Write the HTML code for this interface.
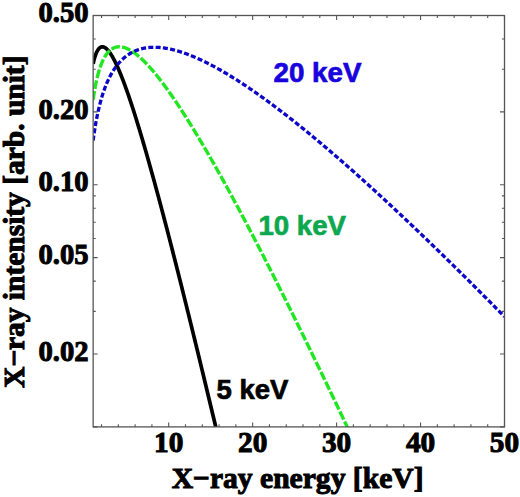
<!DOCTYPE html>
<html><head><meta charset="utf-8"><style>
html,body{margin:0;padding:0;background:#fff;}
svg{display:block;}
.ax{font-family:"Liberation Serif",serif;font-weight:bold;fill:#000;}
.lg{font-family:"Liberation Sans",sans-serif;font-weight:bold;}
</style></head><body>
<svg width="520" height="497" viewBox="0 0 520 497">
<defs><clipPath id="cp"><rect x="93.15" y="15.5" width="411.35" height="411.4"/></clipPath></defs>
<rect width="520" height="497" fill="#fff"/>
<g clip-path="url(#cp)" fill="none" stroke-linejoin="round">
<path d="M93.15,63.73 L93.57,61.85 L93.99,60.14 L94.41,58.56 L94.83,57.13 L95.25,55.82 L95.67,54.63 L96.09,53.54 L96.51,52.56 L96.93,51.68 L97.35,50.88 L97.77,50.17 L98.19,49.54 L98.61,48.99 L99.03,48.51 L99.45,48.09 L99.87,47.74 L100.29,47.45 L100.71,47.22 L101.13,47.05 L101.54,46.92 L101.96,46.85 L102.38,46.83 L102.80,46.85 L103.22,46.92 L103.64,47.03 L104.06,47.18 L104.48,47.37 L104.90,47.59 L105.32,47.86 L105.74,48.16 L106.16,48.49 L106.58,48.85 L107.00,49.25 L107.42,49.67 L107.84,50.13 L108.26,50.61 L108.68,51.12 L109.10,51.66 L109.52,52.22 L109.94,52.81 L110.36,53.42 L110.78,54.05 L111.20,54.71 L111.62,55.39 L112.04,56.08 L112.46,56.80 L112.88,57.54 L113.30,58.30 L113.72,59.08 L114.14,59.88 L114.56,60.69 L114.98,61.52 L115.40,62.37 L115.82,63.23 L116.24,64.11 L116.66,65.01 L117.08,65.92 L117.50,66.85 L117.91,67.79 L118.33,68.75 L118.75,69.71 L119.17,70.70 L119.59,71.69 L120.01,72.70 L120.43,73.72 L120.85,74.75 L121.27,75.80 L121.69,76.86 L122.11,77.92 L122.53,79.00 L122.95,80.09 L123.37,81.20 L123.79,82.31 L124.21,83.43 L124.63,84.56 L125.05,85.70 L125.47,86.85 L125.89,88.02 L126.31,89.19 L126.73,90.36 L127.15,91.55 L127.57,92.75 L127.99,93.96 L128.41,95.17 L128.83,96.39 L129.25,97.62 L129.67,98.86 L130.09,100.11 L130.51,101.36 L130.93,102.62 L131.35,103.89 L131.77,105.16 L132.19,106.45 L132.61,107.74 L133.03,109.03 L133.45,110.34 L133.87,111.65 L134.28,112.96 L134.70,114.29 L135.12,115.62 L135.54,116.95 L135.96,118.29 L136.38,119.64 L136.80,120.99 L137.22,122.35 L137.64,123.72 L138.06,125.09 L138.48,126.46 L138.90,127.84 L139.32,129.23 L139.74,130.62 L140.16,132.02 L140.58,133.42 L141.00,134.83 L141.42,136.24 L141.84,137.66 L142.26,139.08 L142.68,140.50 L143.10,141.93 L143.52,143.37 L143.94,144.81 L144.36,146.25 L144.78,147.70 L145.20,149.16 L145.62,150.61 L146.04,152.07 L146.46,153.54 L146.88,155.01 L147.30,156.48 L147.72,157.96 L148.14,159.44 L148.56,160.93 L148.98,162.42 L149.40,163.91 L149.82,165.41 L150.24,166.91 L150.66,168.41 L151.07,169.92 L151.49,171.43 L151.91,172.94 L152.33,174.46 L152.75,175.98 L153.17,177.50 L153.59,179.03 L154.01,180.56 L154.43,182.10 L154.85,183.63 L155.27,185.17 L155.69,186.72 L156.11,188.26 L156.53,189.81 L156.95,191.36 L157.37,192.92 L157.79,194.47 L158.21,196.04 L158.63,197.60 L159.05,199.17 L159.47,200.73 L159.89,202.31 L160.31,203.88 L160.73,205.46 L161.15,207.04 L161.57,208.62 L161.99,210.20 L162.41,211.79 L162.83,213.38 L163.25,214.97 L163.67,216.57 L164.09,218.16 L164.51,219.76 L164.93,221.36 L165.35,222.97 L165.77,224.57 L166.19,226.18 L166.61,227.79 L167.03,229.41 L167.44,231.02 L167.86,232.64 L168.28,234.26 L168.70,235.88 L169.12,237.50 L169.54,239.13 L169.96,240.76 L170.38,242.38 L170.80,244.02 L171.22,245.65 L171.64,247.29 L172.06,248.92 L172.48,250.56 L172.90,252.20 L173.32,253.85 L173.74,255.49 L174.16,257.14 L174.58,258.79 L175.00,260.44 L175.42,262.09 L175.84,263.74 L176.26,265.40 L176.68,267.06 L177.10,268.72 L177.52,270.38 L177.94,272.04 L178.36,273.70 L178.78,275.37 L179.20,277.04 L179.62,278.70 L180.04,280.38 L180.46,282.05 L180.88,283.72 L181.30,285.40 L181.72,287.07 L182.14,288.75 L182.56,290.43 L182.98,292.11 L183.40,293.79 L183.81,295.48 L184.23,297.16 L184.65,298.85 L185.07,300.54 L185.49,302.23 L185.91,303.92 L186.33,305.61 L186.75,307.31 L187.17,309.00 L187.59,310.70 L188.01,312.39 L188.43,314.09 L188.85,315.79 L189.27,317.50 L189.69,319.20 L190.11,320.90 L190.53,322.61 L190.95,324.31 L191.37,326.02 L191.79,327.73 L192.21,329.44 L192.63,331.15 L193.05,332.86 L193.47,334.58 L193.89,336.29 L194.31,338.01 L194.73,339.73 L195.15,341.44 L195.57,343.16 L195.99,344.88 L196.41,346.61 L196.83,348.33 L197.25,350.05 L197.67,351.78 L198.09,353.50 L198.51,355.23 L198.93,356.96 L199.35,358.68 L199.77,360.41 L200.18,362.14 L200.60,363.88 L201.02,365.61 L201.44,367.34 L201.86,369.08 L202.28,370.81 L202.70,372.55 L203.12,374.29 L203.54,376.03 L203.96,377.77 L204.38,379.51 L204.80,381.25 L205.22,382.99 L205.64,384.73 L206.06,386.48 L206.48,388.22 L206.90,389.97 L207.32,391.71 L207.74,393.46 L208.16,395.21 L208.58,396.96 L209.00,398.71 L209.42,400.46 L209.84,402.21 L210.26,403.96 L210.68,405.71 L211.10,407.47 L211.52,409.22 L211.94,410.98 L212.36,412.73 L212.78,414.49 L213.20,416.25 L213.62,418.01 L214.04,419.77 L214.46,421.53 L214.88,423.29 L215.30,425.05 L215.72,426.81 L216.14,428.57 L216.56,430.34 L216.97,432.10" stroke="#000" stroke-width="3.7"/>
<path d="M93.15,99.75 L93.57,96.81 L93.99,94.04 L94.41,91.45 L94.83,89.00 L95.25,86.69 L95.67,84.51 L96.09,82.45 L96.51,80.51 L96.93,78.66 L97.35,76.91 L97.77,75.24 L98.19,73.67 L98.61,72.17 L99.03,70.74 L99.45,69.38 L99.87,68.09 L100.29,66.86 L100.71,65.69 L101.13,64.58 L101.54,63.51 L101.96,62.50 L102.38,61.54 L102.80,60.62 L103.22,59.75 L103.64,58.91 L104.06,58.12 L104.48,57.37 L104.90,56.65 L105.32,55.96 L105.74,55.31 L106.16,54.70 L106.58,54.11 L107.00,53.55 L107.42,53.02 L107.84,52.52 L108.26,52.05 L108.68,51.60 L109.10,51.18 L109.52,50.78 L109.94,50.40 L110.36,50.05 L110.78,49.72 L111.20,49.41 L111.62,49.12 L112.04,48.85 L112.46,48.60 L112.88,48.36 L113.30,48.15 L113.72,47.95 L114.14,47.77 L114.56,47.61 L114.98,47.46 L115.40,47.33 L115.82,47.21 L116.24,47.11 L116.66,47.02 L117.08,46.95 L117.50,46.89 L117.91,46.84 L118.33,46.81 L118.75,46.79 L119.17,46.78 L119.59,46.78 L120.01,46.80 L120.43,46.83 L120.85,46.87 L121.27,46.91 L121.69,46.97 L122.11,47.05 L122.53,47.13 L122.95,47.22 L123.37,47.32 L123.79,47.43 L124.21,47.55 L124.63,47.68 L125.05,47.82 L125.47,47.96 L125.89,48.12 L126.31,48.28 L126.73,48.45 L127.15,48.64 L127.57,48.82 L127.99,49.02 L128.41,49.22 L128.83,49.44 L129.25,49.66 L129.67,49.88 L130.09,50.12 L130.51,50.36 L130.93,50.60 L131.35,50.86 L131.77,51.12 L132.19,51.39 L132.61,51.66 L133.03,51.94 L133.45,52.23 L133.87,52.52 L134.28,52.82 L134.70,53.12 L135.12,53.43 L135.54,53.75 L135.96,54.07 L136.38,54.40 L136.80,54.73 L137.22,55.07 L137.64,55.41 L138.06,55.76 L138.48,56.11 L138.90,56.47 L139.32,56.83 L139.74,57.20 L140.16,57.57 L140.58,57.95 L141.00,58.33 L141.42,58.72 L141.84,59.11 L142.26,59.51 L142.68,59.91 L143.10,60.31 L143.52,60.72 L143.94,61.14 L144.36,61.55 L144.78,61.97 L145.20,62.40 L145.62,62.83 L146.04,63.26 L146.46,63.70 L146.88,64.14 L147.30,64.59 L147.72,65.03 L148.14,65.49 L148.56,65.94 L148.98,66.40 L149.40,66.86 L149.82,67.33 L150.24,67.80 L150.66,68.27 L151.07,68.75 L151.49,69.23 L151.91,69.71 L152.33,70.20 L152.75,70.69 L153.17,71.18 L153.59,71.68 L154.01,72.18 L154.43,72.68 L154.85,73.19 L155.27,73.69 L155.69,74.20 L156.11,74.72 L156.53,75.24 L156.95,75.76 L157.37,76.28 L157.79,76.80 L158.21,77.33 L158.63,77.86 L159.05,78.40 L159.47,78.93 L159.89,79.47 L160.31,80.01 L160.73,80.56 L161.15,81.10 L161.57,81.65 L161.99,82.20 L162.41,82.76 L162.83,83.31 L163.25,83.87 L163.67,84.43 L164.09,85.00 L164.51,85.56 L164.93,86.13 L165.35,86.70 L165.77,87.28 L166.19,87.85 L166.61,88.43 L167.03,89.01 L167.44,89.59 L167.86,90.17 L168.28,90.76 L168.70,91.35 L169.12,91.94 L169.54,92.53 L169.96,93.12 L170.38,93.72 L170.80,94.32 L171.22,94.92 L171.64,95.52 L172.06,96.13 L172.48,96.73 L172.90,97.34 L173.32,97.95 L173.74,98.56 L174.16,99.18 L174.58,99.79 L175.00,100.41 L175.42,101.03 L175.84,101.65 L176.26,102.28 L176.68,102.90 L177.10,103.53 L177.52,104.15 L177.94,104.78 L178.36,105.42 L178.78,106.05 L179.20,106.69 L179.62,107.32 L180.04,107.96 L180.46,108.60 L180.88,109.24 L181.30,109.89 L181.72,110.53 L182.14,111.18 L182.56,111.83 L182.98,112.48 L183.40,113.13 L183.81,113.78 L184.23,114.43 L184.65,115.09 L185.07,115.75 L185.49,116.41 L185.91,117.07 L186.33,117.73 L186.75,118.39 L187.17,119.06 L187.59,119.72 L188.01,120.39 L188.43,121.06 L188.85,121.73 L189.27,122.40 L189.69,123.07 L190.11,123.75 L190.53,124.42 L190.95,125.10 L191.37,125.78 L191.79,126.46 L192.21,127.14 L192.63,127.82 L193.05,128.51 L193.47,129.19 L193.89,129.88 L194.31,130.56 L194.73,131.25 L195.15,131.94 L195.57,132.63 L195.99,133.33 L196.41,134.02 L196.83,134.71 L197.25,135.41 L197.67,136.11 L198.09,136.81 L198.51,137.51 L198.93,138.21 L199.35,138.91 L199.77,139.61 L200.18,140.32 L200.60,141.02 L201.02,141.73 L201.44,142.43 L201.86,143.14 L202.28,143.85 L202.70,144.56 L203.12,145.28 L203.54,145.99 L203.96,146.70 L204.38,147.42 L204.80,148.13 L205.22,148.85 L205.64,149.57 L206.06,150.29 L206.48,151.01 L206.90,151.73 L207.32,152.45 L207.74,153.18 L208.16,153.90 L208.58,154.63 L209.00,155.35 L209.42,156.08 L209.84,156.81 L210.26,157.54 L210.68,158.27 L211.10,159.00 L211.52,159.73 L211.94,160.47 L212.36,161.20 L212.78,161.94 L213.20,162.67 L213.62,163.41 L214.04,164.15 L214.46,164.88 L214.88,165.62 L215.30,166.37 L215.72,167.11 L216.14,167.85 L216.56,168.59 L216.97,169.34 L217.39,170.08 L217.81,170.83 L218.23,171.57 L218.65,172.32 L219.07,173.07 L219.49,173.82 L219.91,174.57 L220.33,175.32 L220.75,176.07 L221.17,176.82 L221.59,177.58 L222.01,178.33 L222.43,179.09 L222.85,179.84 L223.27,180.60 L223.69,181.36 L224.11,182.12 L224.53,182.87 L224.95,183.63 L225.37,184.40 L225.79,185.16 L226.21,185.92 L226.63,186.68 L227.05,187.45 L227.47,188.21 L227.89,188.98 L228.31,189.74 L228.73,190.51 L229.15,191.28 L229.57,192.04 L229.99,192.81 L230.41,193.58 L230.83,194.35 L231.25,195.12 L231.67,195.90 L232.09,196.67 L232.51,197.44 L232.93,198.22 L233.34,198.99 L233.76,199.77 L234.18,200.54 L234.60,201.32 L235.02,202.10 L235.44,202.87 L235.86,203.65 L236.28,204.43 L236.70,205.21 L237.12,205.99 L237.54,206.78 L237.96,207.56 L238.38,208.34 L238.80,209.12 L239.22,209.91 L239.64,210.69 L240.06,211.48 L240.48,212.26 L240.90,213.05 L241.32,213.84 L241.74,214.63 L242.16,215.41 L242.58,216.20 L243.00,216.99 L243.42,217.78 L243.84,218.58 L244.26,219.37 L244.68,220.16 L245.10,220.95 L245.52,221.75 L245.94,222.54 L246.36,223.34 L246.78,224.13 L247.20,224.93 L247.62,225.72 L248.04,226.52 L248.46,227.32 L248.88,228.12 L249.30,228.91 L249.71,229.71 L250.13,230.51 L250.55,231.31 L250.97,232.12 L251.39,232.92 L251.81,233.72 L252.23,234.52 L252.65,235.33 L253.07,236.13 L253.49,236.93 L253.91,237.74 L254.33,238.55 L254.75,239.35 L255.17,240.16 L255.59,240.97 L256.01,241.77 L256.43,242.58 L256.85,243.39 L257.27,244.20 L257.69,245.01 L258.11,245.82 L258.53,246.63 L258.95,247.44 L259.37,248.25 L259.79,249.07 L260.21,249.88 L260.63,250.69 L261.05,251.51 L261.47,252.32 L261.89,253.14 L262.31,253.95 L262.73,254.77 L263.15,255.59 L263.57,256.40 L263.99,257.22 L264.41,258.04 L264.83,258.86 L265.25,259.68 L265.67,260.49 L266.08,261.31 L266.50,262.14 L266.92,262.96 L267.34,263.78 L267.76,264.60 L268.18,265.42 L268.60,266.24 L269.02,267.07 L269.44,267.89 L269.86,268.72 L270.28,269.54 L270.70,270.37 L271.12,271.19 L271.54,272.02 L271.96,272.84 L272.38,273.67 L272.80,274.50 L273.22,275.33 L273.64,276.15 L274.06,276.98 L274.48,277.81 L274.90,278.64 L275.32,279.47 L275.74,280.30 L276.16,281.13 L276.58,281.96 L277.00,282.80 L277.42,283.63 L277.84,284.46 L278.26,285.29 L278.68,286.13 L279.10,286.96 L279.52,287.80 L279.94,288.63 L280.36,289.47 L280.78,290.30 L281.20,291.14 L281.62,291.97 L282.04,292.81 L282.45,293.65 L282.87,294.49 L283.29,295.32 L283.71,296.16 L284.13,297.00 L284.55,297.84 L284.97,298.68 L285.39,299.52 L285.81,300.36 L286.23,301.20 L286.65,302.04 L287.07,302.88 L287.49,303.73 L287.91,304.57 L288.33,305.41 L288.75,306.25 L289.17,307.10 L289.59,307.94 L290.01,308.79 L290.43,309.63 L290.85,310.48 L291.27,311.32 L291.69,312.17 L292.11,313.01 L292.53,313.86 L292.95,314.71 L293.37,315.55 L293.79,316.40 L294.21,317.25 L294.63,318.10 L295.05,318.95 L295.47,319.80 L295.89,320.65 L296.31,321.50 L296.73,322.35 L297.15,323.20 L297.57,324.05 L297.99,324.90 L298.41,325.75 L298.83,326.60 L299.24,327.46 L299.66,328.31 L300.08,329.16 L300.50,330.01 L300.92,330.87 L301.34,331.72 L301.76,332.58 L302.18,333.43 L302.60,334.29 L303.02,335.14 L303.44,336.00 L303.86,336.85 L304.28,337.71 L304.70,338.57 L305.12,339.43 L305.54,340.28 L305.96,341.14 L306.38,342.00 L306.80,342.86 L307.22,343.72 L307.64,344.58 L308.06,345.43 L308.48,346.29 L308.90,347.15 L309.32,348.02 L309.74,348.88 L310.16,349.74 L310.58,350.60 L311.00,351.46 L311.42,352.32 L311.84,353.18 L312.26,354.05 L312.68,354.91 L313.10,355.77 L313.52,356.64 L313.94,357.50 L314.36,358.37 L314.78,359.23 L315.20,360.10 L315.61,360.96 L316.03,361.83 L316.45,362.69 L316.87,363.56 L317.29,364.42 L317.71,365.29 L318.13,366.16 L318.55,367.03 L318.97,367.89 L319.39,368.76 L319.81,369.63 L320.23,370.50 L320.65,371.37 L321.07,372.24 L321.49,373.10 L321.91,373.97 L322.33,374.84 L322.75,375.71 L323.17,376.58 L323.59,377.46 L324.01,378.33 L324.43,379.20 L324.85,380.07 L325.27,380.94 L325.69,381.81 L326.11,382.69 L326.53,383.56 L326.95,384.43 L327.37,385.31 L327.79,386.18 L328.21,387.05 L328.63,387.93 L329.05,388.80 L329.47,389.68 L329.89,390.55 L330.31,391.43 L330.73,392.30 L331.15,393.18 L331.57,394.05 L331.98,394.93 L332.40,395.81 L332.82,396.68 L333.24,397.56 L333.66,398.44 L334.08,399.32 L334.50,400.20 L334.92,401.07 L335.34,401.95 L335.76,402.83 L336.18,403.71 L336.60,404.59 L337.02,405.47 L337.44,406.35 L337.86,407.23 L338.28,408.11 L338.70,408.99 L339.12,409.87 L339.54,410.75 L339.96,411.63 L340.38,412.51 L340.80,413.40 L341.22,414.28 L341.64,415.16 L342.06,416.04 L342.48,416.93 L342.90,417.81 L343.32,418.69 L343.74,419.58 L344.16,420.46 L344.58,421.34 L345.00,422.23 L345.42,423.11 L345.84,424.00 L346.26,424.88 L346.68,425.77 L347.10,426.65 L347.52,427.54 L347.94,428.43 L348.35,429.31 L348.77,430.20 L349.19,431.09 L349.61,431.97" stroke="#22e622" stroke-width="3.4" stroke-dasharray="8.8 2.2"/>
<path d="M93.15,140.51 L93.57,137.37 L93.99,134.40 L94.41,131.58 L94.83,128.88 L95.25,126.32 L95.67,123.86 L96.09,121.52 L96.51,119.27 L96.93,117.11 L97.35,115.04 L97.77,113.05 L98.19,111.14 L98.61,109.29 L99.03,107.51 L99.45,105.80 L99.87,104.14 L100.29,102.54 L100.71,100.99 L101.13,99.49 L101.54,98.05 L101.96,96.64 L102.38,95.28 L102.80,93.96 L103.22,92.69 L103.64,91.45 L104.06,90.24 L104.48,89.07 L104.90,87.94 L105.32,86.83 L105.74,85.76 L106.16,84.71 L106.58,83.70 L107.00,82.71 L107.42,81.75 L107.84,80.81 L108.26,79.90 L108.68,79.01 L109.10,78.15 L109.52,77.30 L109.94,76.48 L110.36,75.68 L110.78,74.90 L111.20,74.14 L111.62,73.39 L112.04,72.67 L112.46,71.96 L112.88,71.27 L113.30,70.60 L113.72,69.94 L114.14,69.30 L114.56,68.68 L114.98,68.07 L115.40,67.47 L115.82,66.89 L116.24,66.32 L116.66,65.76 L117.08,65.22 L117.50,64.69 L117.91,64.18 L118.33,63.67 L118.75,63.18 L119.17,62.70 L119.59,62.23 L120.01,61.77 L120.43,61.32 L120.85,60.88 L121.27,60.46 L121.69,60.04 L122.11,59.63 L122.53,59.23 L122.95,58.85 L123.37,58.47 L123.79,58.10 L124.21,57.73 L124.63,57.38 L125.05,57.04 L125.47,56.70 L125.89,56.37 L126.31,56.05 L126.73,55.74 L127.15,55.44 L127.57,55.14 L127.99,54.85 L128.41,54.57 L128.83,54.29 L129.25,54.03 L129.67,53.76 L130.09,53.51 L130.51,53.26 L130.93,53.02 L131.35,52.78 L131.77,52.56 L132.19,52.33 L132.61,52.12 L133.03,51.91 L133.45,51.70 L133.87,51.50 L134.28,51.31 L134.70,51.12 L135.12,50.94 L135.54,50.76 L135.96,50.59 L136.38,50.42 L136.80,50.26 L137.22,50.10 L137.64,49.95 L138.06,49.81 L138.48,49.66 L138.90,49.53 L139.32,49.40 L139.74,49.27 L140.16,49.14 L140.58,49.03 L141.00,48.91 L141.42,48.80 L141.84,48.70 L142.26,48.60 L142.68,48.50 L143.10,48.41 L143.52,48.32 L143.94,48.23 L144.36,48.15 L144.78,48.07 L145.20,48.00 L145.62,47.93 L146.04,47.86 L146.46,47.80 L146.88,47.74 L147.30,47.69 L147.72,47.64 L148.14,47.59 L148.56,47.55 L148.98,47.50 L149.40,47.47 L149.82,47.43 L150.24,47.40 L150.66,47.37 L151.07,47.35 L151.49,47.33 L151.91,47.31 L152.33,47.29 L152.75,47.28 L153.17,47.27 L153.59,47.27 L154.01,47.26 L154.43,47.26 L154.85,47.27 L155.27,47.27 L155.69,47.28 L156.11,47.29 L156.53,47.30 L156.95,47.32 L157.37,47.34 L157.79,47.36 L158.21,47.39 L158.63,47.41 L159.05,47.44 L159.47,47.48 L159.89,47.51 L160.31,47.55 L160.73,47.59 L161.15,47.63 L161.57,47.67 L161.99,47.72 L162.41,47.77 L162.83,47.82 L163.25,47.88 L163.67,47.93 L164.09,47.99 L164.51,48.05 L164.93,48.11 L165.35,48.18 L165.77,48.25 L166.19,48.32 L166.61,48.39 L167.03,48.46 L167.44,48.54 L167.86,48.61 L168.28,48.69 L168.70,48.78 L169.12,48.86 L169.54,48.95 L169.96,49.03 L170.38,49.12 L170.80,49.21 L171.22,49.31 L171.64,49.40 L172.06,49.50 L172.48,49.60 L172.90,49.70 L173.32,49.81 L173.74,49.91 L174.16,50.02 L174.58,50.13 L175.00,50.24 L175.42,50.35 L175.84,50.46 L176.26,50.58 L176.68,50.69 L177.10,50.81 L177.52,50.93 L177.94,51.05 L178.36,51.18 L178.78,51.30 L179.20,51.43 L179.62,51.56 L180.04,51.69 L180.46,51.82 L180.88,51.95 L181.30,52.09 L181.72,52.23 L182.14,52.36 L182.56,52.50 L182.98,52.64 L183.40,52.79 L183.81,52.93 L184.23,53.08 L184.65,53.22 L185.07,53.37 L185.49,53.52 L185.91,53.67 L186.33,53.82 L186.75,53.98 L187.17,54.13 L187.59,54.29 L188.01,54.45 L188.43,54.61 L188.85,54.77 L189.27,54.93 L189.69,55.09 L190.11,55.26 L190.53,55.43 L190.95,55.59 L191.37,55.76 L191.79,55.93 L192.21,56.10 L192.63,56.27 L193.05,56.45 L193.47,56.62 L193.89,56.80 L194.31,56.98 L194.73,57.16 L195.15,57.33 L195.57,57.52 L195.99,57.70 L196.41,57.88 L196.83,58.07 L197.25,58.25 L197.67,58.44 L198.09,58.63 L198.51,58.81 L198.93,59.00 L199.35,59.20 L199.77,59.39 L200.18,59.58 L200.60,59.78 L201.02,59.97 L201.44,60.17 L201.86,60.37 L202.28,60.57 L202.70,60.77 L203.12,60.97 L203.54,61.17 L203.96,61.37 L204.38,61.58 L204.80,61.78 L205.22,61.99 L205.64,62.19 L206.06,62.40 L206.48,62.61 L206.90,62.82 L207.32,63.03 L207.74,63.24 L208.16,63.46 L208.58,63.67 L209.00,63.89 L209.42,64.10 L209.84,64.32 L210.26,64.54 L210.68,64.76 L211.10,64.98 L211.52,65.20 L211.94,65.42 L212.36,65.64 L212.78,65.86 L213.20,66.09 L213.62,66.31 L214.04,66.54 L214.46,66.77 L214.88,66.99 L215.30,67.22 L215.72,67.45 L216.14,67.68 L216.56,67.91 L216.97,68.14 L217.39,68.38 L217.81,68.61 L218.23,68.85 L218.65,69.08 L219.07,69.32 L219.49,69.55 L219.91,69.79 L220.33,70.03 L220.75,70.27 L221.17,70.51 L221.59,70.75 L222.01,70.99 L222.43,71.24 L222.85,71.48 L223.27,71.72 L223.69,71.97 L224.11,72.21 L224.53,72.46 L224.95,72.71 L225.37,72.96 L225.79,73.20 L226.21,73.45 L226.63,73.70 L227.05,73.96 L227.47,74.21 L227.89,74.46 L228.31,74.71 L228.73,74.97 L229.15,75.22 L229.57,75.48 L229.99,75.73 L230.41,75.99 L230.83,76.25 L231.25,76.51 L231.67,76.76 L232.09,77.02 L232.51,77.28 L232.93,77.55 L233.34,77.81 L233.76,78.07 L234.18,78.33 L234.60,78.60 L235.02,78.86 L235.44,79.12 L235.86,79.39 L236.28,79.66 L236.70,79.92 L237.12,80.19 L237.54,80.46 L237.96,80.73 L238.38,81.00 L238.80,81.27 L239.22,81.54 L239.64,81.81 L240.06,82.08 L240.48,82.36 L240.90,82.63 L241.32,82.90 L241.74,83.18 L242.16,83.45 L242.58,83.73 L243.00,84.00 L243.42,84.28 L243.84,84.56 L244.26,84.84 L244.68,85.12 L245.10,85.39 L245.52,85.67 L245.94,85.96 L246.36,86.24 L246.78,86.52 L247.20,86.80 L247.62,87.08 L248.04,87.37 L248.46,87.65 L248.88,87.93 L249.30,88.22 L249.71,88.51 L250.13,88.79 L250.55,89.08 L250.97,89.37 L251.39,89.65 L251.81,89.94 L252.23,90.23 L252.65,90.52 L253.07,90.81 L253.49,91.10 L253.91,91.39 L254.33,91.68 L254.75,91.98 L255.17,92.27 L255.59,92.56 L256.01,92.86 L256.43,93.15 L256.85,93.44 L257.27,93.74 L257.69,94.03 L258.11,94.33 L258.53,94.63 L258.95,94.93 L259.37,95.22 L259.79,95.52 L260.21,95.82 L260.63,96.12 L261.05,96.42 L261.47,96.72 L261.89,97.02 L262.31,97.32 L262.73,97.62 L263.15,97.93 L263.57,98.23 L263.99,98.53 L264.41,98.83 L264.83,99.14 L265.25,99.44 L265.67,99.75 L266.08,100.05 L266.50,100.36 L266.92,100.67 L267.34,100.97 L267.76,101.28 L268.18,101.59 L268.60,101.90 L269.02,102.21 L269.44,102.51 L269.86,102.82 L270.28,103.13 L270.70,103.45 L271.12,103.76 L271.54,104.07 L271.96,104.38 L272.38,104.69 L272.80,105.00 L273.22,105.32 L273.64,105.63 L274.06,105.95 L274.48,106.26 L274.90,106.57 L275.32,106.89 L275.74,107.21 L276.16,107.52 L276.58,107.84 L277.00,108.16 L277.42,108.47 L277.84,108.79 L278.26,109.11 L278.68,109.43 L279.10,109.75 L279.52,110.07 L279.94,110.39 L280.36,110.71 L280.78,111.03 L281.20,111.35 L281.62,111.67 L282.04,111.99 L282.45,112.31 L282.87,112.64 L283.29,112.96 L283.71,113.28 L284.13,113.61 L284.55,113.93 L284.97,114.26 L285.39,114.58 L285.81,114.91 L286.23,115.23 L286.65,115.56 L287.07,115.89 L287.49,116.21 L287.91,116.54 L288.33,116.87 L288.75,117.20 L289.17,117.52 L289.59,117.85 L290.01,118.18 L290.43,118.51 L290.85,118.84 L291.27,119.17 L291.69,119.50 L292.11,119.83 L292.53,120.16 L292.95,120.50 L293.37,120.83 L293.79,121.16 L294.21,121.49 L294.63,121.83 L295.05,122.16 L295.47,122.49 L295.89,122.83 L296.31,123.16 L296.73,123.50 L297.15,123.83 L297.57,124.17 L297.99,124.51 L298.41,124.84 L298.83,125.18 L299.24,125.52 L299.66,125.85 L300.08,126.19 L300.50,126.53 L300.92,126.87 L301.34,127.21 L301.76,127.54 L302.18,127.88 L302.60,128.22 L303.02,128.56 L303.44,128.90 L303.86,129.24 L304.28,129.59 L304.70,129.93 L305.12,130.27 L305.54,130.61 L305.96,130.95 L306.38,131.30 L306.80,131.64 L307.22,131.98 L307.64,132.33 L308.06,132.67 L308.48,133.01 L308.90,133.36 L309.32,133.70 L309.74,134.05 L310.16,134.39 L310.58,134.74 L311.00,135.09 L311.42,135.43 L311.84,135.78 L312.26,136.13 L312.68,136.47 L313.10,136.82 L313.52,137.17 L313.94,137.52 L314.36,137.87 L314.78,138.21 L315.20,138.56 L315.61,138.91 L316.03,139.26 L316.45,139.61 L316.87,139.96 L317.29,140.31 L317.71,140.67 L318.13,141.02 L318.55,141.37 L318.97,141.72 L319.39,142.07 L319.81,142.42 L320.23,142.78 L320.65,143.13 L321.07,143.48 L321.49,143.84 L321.91,144.19 L322.33,144.54 L322.75,144.90 L323.17,145.25 L323.59,145.61 L324.01,145.96 L324.43,146.32 L324.85,146.67 L325.27,147.03 L325.69,147.39 L326.11,147.74 L326.53,148.10 L326.95,148.46 L327.37,148.82 L327.79,149.17 L328.21,149.53 L328.63,149.89 L329.05,150.25 L329.47,150.61 L329.89,150.97 L330.31,151.32 L330.73,151.68 L331.15,152.04 L331.57,152.40 L331.98,152.76 L332.40,153.12 L332.82,153.49 L333.24,153.85 L333.66,154.21 L334.08,154.57 L334.50,154.93 L334.92,155.29 L335.34,155.66 L335.76,156.02 L336.18,156.38 L336.60,156.75 L337.02,157.11 L337.44,157.47 L337.86,157.84 L338.28,158.20 L338.70,158.56 L339.12,158.93 L339.54,159.29 L339.96,159.66 L340.38,160.03 L340.80,160.39 L341.22,160.76 L341.64,161.12 L342.06,161.49 L342.48,161.86 L342.90,162.22 L343.32,162.59 L343.74,162.96 L344.16,163.32 L344.58,163.69 L345.00,164.06 L345.42,164.43 L345.84,164.80 L346.26,165.17 L346.68,165.54 L347.10,165.90 L347.52,166.27 L347.94,166.64 L348.35,167.01 L348.77,167.38 L349.19,167.75 L349.61,168.13 L350.03,168.50 L350.45,168.87 L350.87,169.24 L351.29,169.61 L351.71,169.98 L352.13,170.35 L352.55,170.73 L352.97,171.10 L353.39,171.47 L353.81,171.84 L354.23,172.22 L354.65,172.59 L355.07,172.96 L355.49,173.34 L355.91,173.71 L356.33,174.09 L356.75,174.46 L357.17,174.84 L357.59,175.21 L358.01,175.59 L358.43,175.96 L358.85,176.34 L359.27,176.71 L359.69,177.09 L360.11,177.47 L360.53,177.84 L360.95,178.22 L361.37,178.60 L361.79,178.97 L362.21,179.35 L362.63,179.73 L363.05,180.11 L363.47,180.48 L363.89,180.86 L364.31,181.24 L364.72,181.62 L365.14,182.00 L365.56,182.38 L365.98,182.76 L366.40,183.13 L366.82,183.51 L367.24,183.89 L367.66,184.27 L368.08,184.65 L368.50,185.03 L368.92,185.42 L369.34,185.80 L369.76,186.18 L370.18,186.56 L370.60,186.94 L371.02,187.32 L371.44,187.70 L371.86,188.09 L372.28,188.47 L372.70,188.85 L373.12,189.23 L373.54,189.62 L373.96,190.00 L374.38,190.38 L374.80,190.77 L375.22,191.15 L375.64,191.53 L376.06,191.92 L376.48,192.30 L376.90,192.69 L377.32,193.07 L377.74,193.45 L378.16,193.84 L378.58,194.22 L379.00,194.61 L379.42,195.00 L379.84,195.38 L380.26,195.77 L380.68,196.15 L381.10,196.54 L381.51,196.93 L381.93,197.31 L382.35,197.70 L382.77,198.09 L383.19,198.47 L383.61,198.86 L384.03,199.25 L384.45,199.64 L384.87,200.02 L385.29,200.41 L385.71,200.80 L386.13,201.19 L386.55,201.58 L386.97,201.97 L387.39,202.36 L387.81,202.75 L388.23,203.13 L388.65,203.52 L389.07,203.91 L389.49,204.30 L389.91,204.69 L390.33,205.08 L390.75,205.48 L391.17,205.87 L391.59,206.26 L392.01,206.65 L392.43,207.04 L392.85,207.43 L393.27,207.82 L393.69,208.21 L394.11,208.61 L394.53,209.00 L394.95,209.39 L395.37,209.78 L395.79,210.17 L396.21,210.57 L396.63,210.96 L397.05,211.35 L397.47,211.75 L397.88,212.14 L398.30,212.53 L398.72,212.93 L399.14,213.32 L399.56,213.72 L399.98,214.11 L400.40,214.50 L400.82,214.90 L401.24,215.29 L401.66,215.69 L402.08,216.08 L402.50,216.48 L402.92,216.87 L403.34,217.27 L403.76,217.67 L404.18,218.06 L404.60,218.46 L405.02,218.85 L405.44,219.25 L405.86,219.65 L406.28,220.04 L406.70,220.44 L407.12,220.84 L407.54,221.24 L407.96,221.63 L408.38,222.03 L408.80,222.43 L409.22,222.83 L409.64,223.22 L410.06,223.62 L410.48,224.02 L410.90,224.42 L411.32,224.82 L411.74,225.22 L412.16,225.62 L412.58,226.01 L413.00,226.41 L413.42,226.81 L413.84,227.21 L414.25,227.61 L414.67,228.01 L415.09,228.41 L415.51,228.81 L415.93,229.21 L416.35,229.61 L416.77,230.01 L417.19,230.42 L417.61,230.82 L418.03,231.22 L418.45,231.62 L418.87,232.02 L419.29,232.42 L419.71,232.82 L420.13,233.23 L420.55,233.63 L420.97,234.03 L421.39,234.43 L421.81,234.83 L422.23,235.24 L422.65,235.64 L423.07,236.04 L423.49,236.45 L423.91,236.85 L424.33,237.25 L424.75,237.66 L425.17,238.06 L425.59,238.46 L426.01,238.87 L426.43,239.27 L426.85,239.68 L427.27,240.08 L427.69,240.49 L428.11,240.89 L428.53,241.29 L428.95,241.70 L429.37,242.10 L429.79,242.51 L430.21,242.92 L430.62,243.32 L431.04,243.73 L431.46,244.13 L431.88,244.54 L432.30,244.94 L432.72,245.35 L433.14,245.76 L433.56,246.16 L433.98,246.57 L434.40,246.98 L434.82,247.38 L435.24,247.79 L435.66,248.20 L436.08,248.61 L436.50,249.01 L436.92,249.42 L437.34,249.83 L437.76,250.24 L438.18,250.65 L438.60,251.05 L439.02,251.46 L439.44,251.87 L439.86,252.28 L440.28,252.69 L440.70,253.10 L441.12,253.51 L441.54,253.91 L441.96,254.32 L442.38,254.73 L442.80,255.14 L443.22,255.55 L443.64,255.96 L444.06,256.37 L444.48,256.78 L444.90,257.19 L445.32,257.60 L445.74,258.01 L446.16,258.42 L446.58,258.83 L446.99,259.25 L447.41,259.66 L447.83,260.07 L448.25,260.48 L448.67,260.89 L449.09,261.30 L449.51,261.71 L449.93,262.13 L450.35,262.54 L450.77,262.95 L451.19,263.36 L451.61,263.77 L452.03,264.19 L452.45,264.60 L452.87,265.01 L453.29,265.42 L453.71,265.84 L454.13,266.25 L454.55,266.66 L454.97,267.08 L455.39,267.49 L455.81,267.90 L456.23,268.32 L456.65,268.73 L457.07,269.14 L457.49,269.56 L457.91,269.97 L458.33,270.39 L458.75,270.80 L459.17,271.22 L459.59,271.63 L460.01,272.05 L460.43,272.46 L460.85,272.88 L461.27,273.29 L461.69,273.71 L462.11,274.12 L462.53,274.54 L462.95,274.95 L463.36,275.37 L463.78,275.78 L464.20,276.20 L464.62,276.62 L465.04,277.03 L465.46,277.45 L465.88,277.87 L466.30,278.28 L466.72,278.70 L467.14,279.12 L467.56,279.53 L467.98,279.95 L468.40,280.37 L468.82,280.78 L469.24,281.20 L469.66,281.62 L470.08,282.04 L470.50,282.45 L470.92,282.87 L471.34,283.29 L471.76,283.71 L472.18,284.13 L472.60,284.55 L473.02,284.96 L473.44,285.38 L473.86,285.80 L474.28,286.22 L474.70,286.64 L475.12,287.06 L475.54,287.48 L475.96,287.90 L476.38,288.32 L476.80,288.74 L477.22,289.15 L477.64,289.57 L478.06,289.99 L478.48,290.41 L478.90,290.83 L479.32,291.25 L479.74,291.67 L480.15,292.10 L480.57,292.52 L480.99,292.94 L481.41,293.36 L481.83,293.78 L482.25,294.20 L482.67,294.62 L483.09,295.04 L483.51,295.46 L483.93,295.88 L484.35,296.31 L484.77,296.73 L485.19,297.15 L485.61,297.57 L486.03,297.99 L486.45,298.41 L486.87,298.84 L487.29,299.26 L487.71,299.68 L488.13,300.10 L488.55,300.53 L488.97,300.95 L489.39,301.37 L489.81,301.79 L490.23,302.22 L490.65,302.64 L491.07,303.06 L491.49,303.49 L491.91,303.91 L492.33,304.33 L492.75,304.76 L493.17,305.18 L493.59,305.61 L494.01,306.03 L494.43,306.45 L494.85,306.88 L495.27,307.30 L495.69,307.73 L496.11,308.15 L496.52,308.58 L496.94,309.00 L497.36,309.43 L497.78,309.85 L498.20,310.28 L498.62,310.70 L499.04,311.13 L499.46,311.55 L499.88,311.98 L500.30,312.40 L500.72,312.83 L501.14,313.25 L501.56,313.68 L501.98,314.10 L502.40,314.53 L502.82,314.96 L503.24,315.38 L503.66,315.81 L504.08,316.24 L504.50,316.66" stroke="#0c06c8" stroke-width="3.3" stroke-dasharray="5 2.3"/>
</g>
<rect x="93.15" y="15.5" width="411.35" height="411.40" fill="none" stroke="#555" stroke-width="1.3"/>
<path d="M101.54,426.90v-2.6 M101.54,15.50v2.6 M118.33,426.90v-2.6 M118.33,15.50v2.6 M135.12,426.90v-2.6 M135.12,15.50v2.6 M151.91,426.90v-2.6 M151.91,15.50v2.6 M168.70,426.90v-4.5 M168.70,15.50v4.5 M185.49,426.90v-2.6 M185.49,15.50v2.6 M202.28,426.90v-2.6 M202.28,15.50v2.6 M219.07,426.90v-2.6 M219.07,15.50v2.6 M235.86,426.90v-2.6 M235.86,15.50v2.6 M252.65,426.90v-4.5 M252.65,15.50v4.5 M269.44,426.90v-2.6 M269.44,15.50v2.6 M286.23,426.90v-2.6 M286.23,15.50v2.6 M303.02,426.90v-2.6 M303.02,15.50v2.6 M319.81,426.90v-2.6 M319.81,15.50v2.6 M336.60,426.90v-4.5 M336.60,15.50v4.5 M353.39,426.90v-2.6 M353.39,15.50v2.6 M370.18,426.90v-2.6 M370.18,15.50v2.6 M386.97,426.90v-2.6 M386.97,15.50v2.6 M403.76,426.90v-2.6 M403.76,15.50v2.6 M420.55,426.90v-4.5 M420.55,15.50v4.5 M437.34,426.90v-2.6 M437.34,15.50v2.6 M454.13,426.90v-2.6 M454.13,15.50v2.6 M470.92,426.90v-2.6 M470.92,15.50v2.6 M487.71,426.90v-2.6 M487.71,15.50v2.6 M504.50,426.90v-4.5 M504.50,15.50v4.5 M93.15,426.90h4.5 M504.50,426.90h-4.5 M93.15,354.01h4.5 M504.50,354.01h-4.5 M93.15,311.37h2.6 M504.50,311.37h-2.6 M93.15,281.11h2.6 M504.50,281.11h-2.6 M93.15,257.65h4.5 M504.50,257.65h-4.5 M93.15,238.47h2.6 M504.50,238.47h-2.6 M93.15,222.26h2.6 M504.50,222.26h-2.6 M93.15,208.22h2.6 M504.50,208.22h-2.6 M93.15,195.83h2.6 M504.50,195.83h-2.6 M93.15,184.75h4.5 M504.50,184.75h-4.5 M93.15,111.86h4.5 M504.50,111.86h-4.5 M93.15,69.22h2.6 M504.50,69.22h-2.6 M93.15,38.97h2.6 M504.50,38.97h-2.6 M93.15,15.50h4.5 M504.50,15.50h-4.5" stroke="#555" stroke-width="1.1" fill="none"/>
<g class="ax" font-size="29.3" stroke="#000" stroke-width="1.0"><text transform="translate(88.6,22.1) scale(0.977,1)" text-anchor="end">0.50</text><text transform="translate(88.6,118.5) scale(0.977,1)" text-anchor="end">0.20</text><text transform="translate(88.6,191.4) scale(0.977,1)" text-anchor="end">0.10</text><text transform="translate(88.6,264.2) scale(0.977,1)" text-anchor="end">0.05</text><text transform="translate(88.6,360.6) scale(0.977,1)" text-anchor="end">0.02</text><text transform="translate(168.7,452.2) scale(1.0,1)" text-anchor="middle">10</text><text transform="translate(252.7,452.2) scale(1.0,1)" text-anchor="middle">20</text><text transform="translate(336.6,452.2) scale(1.0,1)" text-anchor="middle">30</text><text transform="translate(420.6,452.2) scale(1.0,1)" text-anchor="middle">40</text><text transform="translate(504.5,452.2) scale(1.0,1)" text-anchor="middle">50</text>
<text font-size="29.6" transform="translate(297.6,488.2) scale(1.0,1)" text-anchor="middle">X&#8722;ray energy [keV]</text>
<text font-size="30" transform="translate(23.6,221.8) rotate(-90) scale(0.982,1)" text-anchor="middle">X&#8722;ray intensity [arb. unit]</text></g>
<text class="lg" font-size="28.5" x="273.5" y="82.3" fill="#1a02dc" stroke="#1a02dc" stroke-width="0.7" textLength="88" lengthAdjust="spacingAndGlyphs">20 keV</text>
<text class="lg" font-size="28.5" x="258.5" y="234.6" fill="#0ca850" stroke="#0ca850" stroke-width="0.7" textLength="87.5" lengthAdjust="spacingAndGlyphs">10 keV</text>
<text class="lg" font-size="28.5" x="216.5" y="398.9" fill="#000" stroke="#000" stroke-width="0.7" textLength="72" lengthAdjust="spacingAndGlyphs">5 keV</text>
</svg>
</body></html>
